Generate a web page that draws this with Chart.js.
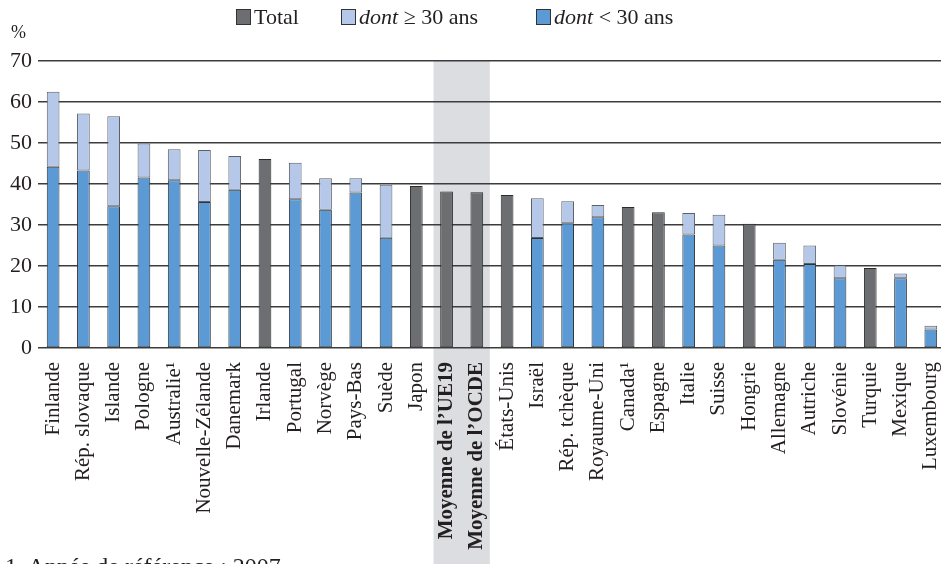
<!DOCTYPE html>
<html>
<head>
<meta charset="utf-8">
<script src="https://cdn.jsdelivr.net/npm/chart.js@4/dist/chart.umd.min.js"></script>
<style>
    html, body { margin: 0; padding: 0; background: #fff; overflow: hidden; }
    #wrap { position: relative; width: 962px; height: 564px; }
    #chart { position: absolute; left: 0; top: 0; }
    .txt { position: absolute; font-family: "Liberation Serif", serif; color: #231f20; white-space: nowrap; }
    #legend { top: 4px; left: 236px; font-size: 22px; height: 26px; }
    #legend .item { position: absolute; top: 0; display: flex; align-items: center; height: 26px; }
    #legend .box { width: 13px; height: 14px; border: 1px solid #333; margin-right: 3px; }
</style>
</head>
<body>
<div id="wrap">
    <canvas id="chart" width="962" height="564"></canvas>
    <div class="txt" id="legend"></div>
    <div class="txt" style="top:22px; left:11px; font-size:18px;">%</div>
    <div class="txt" style="top:553px; left:5px; font-size:24px;">1. Année de référence : 2007.</div>
</div>
<script>
const categories = ['Finlande', 'Rép. slovaque', 'Islande', 'Pologne', 'Australie¹', 'Nouvelle-Zélande',
    'Danemark', 'Irlande', 'Portugal', 'Norvège', 'Pays-Bas', 'Suède', 'Japon',
    'Moyenne de l’UE19', 'Moyenne de l’OCDE', 'États-Unis', 'Israël', 'Rép. tchèque',
    'Royaume-Uni', 'Canada¹', 'Espagne', 'Italie', 'Suisse', 'Hongrie', 'Allemagne',
    'Autriche', 'Slovénie', 'Turquie', 'Mexique', 'Luxembourg'];

// bottom part of the stack
const under30 = [44.2, 43.3, 34.6, 41.6, 40.9, 35.6, 38.6, null, 36.3, 33.7, 37.9, 26.9, null, null, null,
    null, 26.8, 30.4, 31.9, null, null, 27.7, 25.0, null, 21.5, 20.5, 17.0, null, 17.0, 4.5];
// top part of the stack
const over30 = [18.3, 13.9, 21.9, 8.3, 7.6, 12.7, 8.2, null, 8.9, 7.7, 3.5, 12.9, null, null, null,
    null, 9.7, 5.4, 3.0, null, null, 5.2, 7.5, null, 4.2, 4.5, 3.2, null, 1.2, 0.9];
// countries with only a total
const total = [null, null, null, null, null, null, null, 46.1, null, null, null, null, 39.5, 38.2, 38.0,
    37.3, null, null, null, 34.4, 33.1, null, null, 30.3, null, null, null, 19.5, null, null];

const yTicks = [0, 10, 20, 30, 40, 50, 60, 70];
const averageIdx = [13, 14];

const colTotal = '#6d6e71';
const colOver = '#b6c8e9';
const colUnder = '#5b9ad4';

// grey band behind the two averages
const bandPlugin = {
    id: 'band',
    beforeDraw(chart) {
        const x = chart.scales.x;
        const ctx = chart.ctx;
        const half = (x.getPixelForValue(1) - x.getPixelForValue(0)) * 0.43;
        const x0 = x.getPixelForValue(averageIdx[0]) - half;
        const x1 = x.getPixelForValue(averageIdx[1]) + half;
        ctx.save();
        ctx.fillStyle = '#dcdde0';
        ctx.fillRect(x0, chart.chartArea.top, x1 - x0, chart.height - chart.chartArea.top);
        ctx.restore();
    }
};

const ctx = document.getElementById('chart').getContext('2d');
const barOpts = { barPercentage: 0.42, categoryPercentage: 1, borderWidth: 1, borderSkipped: false };

const myChart = new Chart(ctx, {
    type: 'bar',
    data: {
        labels: categories,
        datasets: [
            Object.assign({ label: 'dont < 30 ans', data: under30, backgroundColor: colUnder, borderColor: '#2f3438' }, barOpts),
            Object.assign({ label: 'dont ≥ 30 ans', data: over30, backgroundColor: colOver, borderColor: '#5c6066' }, barOpts),
            Object.assign({ label: 'Total', data: total, backgroundColor: colTotal, borderColor: '#2b2b2b' }, barOpts)
        ]
    },
    options: {
        responsive: false,
        animation: false,
        devicePixelRatio: 1,
        layout: { padding: { left: 0, top: 61, right: 0, bottom: 0 } },
        plugins: {
            legend: { display: false },
            tooltip: { enabled: false }
        },
        scales: {
            x: {
                stacked: true,
                grid: { display: false },
                border: { display: false },
                ticks: {
                    autoSkip: false,
                    minRotation: 90,
                    maxRotation: 90,
                    padding: 6,
                    color: '#231f20',
                    font: (c) => ({
                        family: 'Liberation Serif',
                        size: 21,
                        weight: averageIdx.includes(c.index) ? 'bold' : 'normal'
                    })
                },
                afterFit: (scale) => { scale.height = 216; }
            },
            y: {
                stacked: true,
                min: 0,
                max: 70,
                afterBuildTicks: (scale) => { scale.ticks = yTicks.map(v => ({ value: v })); },
                grid: { color: '#3c3c3c', lineWidth: 1.5, drawTicks: false },
                border: { display: false },
                ticks: {
                    padding: 6,
                    color: '#231f20',
                    font: { family: 'Liberation Serif', size: 22 }
                },
                afterFit: (scale) => { scale.width = 38; }
            }
        }
    },
    plugins: [bandPlugin]
});

// HTML legend so "dont" can be italic; item offsets relative to the legend box
const legendOrder = [2, 1, 0];
const legendLeft = [0, 105, 300];
const legendEl = document.getElementById('legend');
legendOrder.forEach((i, k) => {
    const ds = myChart.data.datasets[i];
    const item = document.createElement('div');
    item.className = 'item';
    item.style.left = legendLeft[k] + 'px';
    const label = ds.label.replace('dont', '<i>dont</i>');
    item.innerHTML = `<span class="box" style="background:${ds.backgroundColor}"></span><span>${label}</span>`;
    legendEl.appendChild(item);
});
</script>
</body>
</html>
